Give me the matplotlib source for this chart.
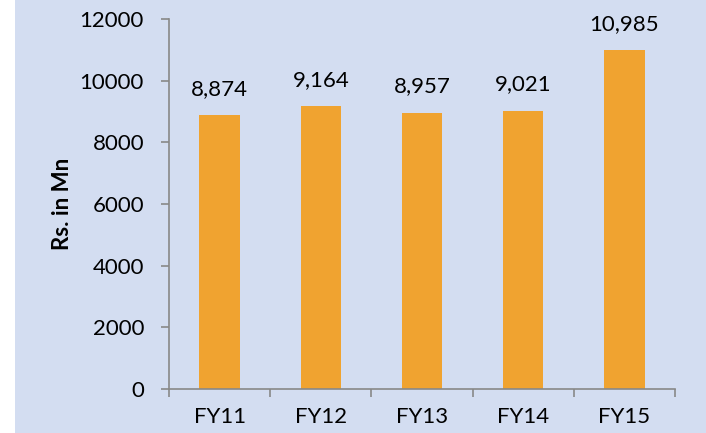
import matplotlib.pyplot as plt
from matplotlib.ticker import FixedLocator, NullFormatter

# data
years = ['FY11', 'FY12', 'FY13', 'FY14', 'FY15']
revenue = [8874, 9164, 8957, 9021, 10985]
y_ticks = [0, 2000, 4000, 6000, 8000, 10000, 12000]

BAR_COLOR = '#F0A330'
AXIS_COLOR = '#888888'
BG_COLOR = '#D3DDF1'

plt.rcParams['font.family'] = ['Lato', 'DejaVu Sans']

fig = plt.figure(figsize=(7.06, 4.33), dpi=100, facecolor='white')

# textured backdrop approximated by a flat pastel panel
bg = fig.add_axes([15 / 706, 0, 1 - 15 / 706, 1], zorder=-1)
bg.set_facecolor(BG_COLOR)
bg.set_xticks([])
bg.set_yticks([])
for s in bg.spines.values():
    s.set_visible(False)

ax = fig.add_axes([169 / 706, 1 - 389 / 433, (675 - 169) / 706, (389 - 19) / 433])
ax.set_facecolor('none')

x = list(range(len(years)))
ax.bar(x, revenue, width=0.4, color=BAR_COLOR, zorder=2)
for xi, v in zip(x, revenue):
    ax.annotate(f'{v:,}', (xi, v), xytext=(0, 12), textcoords='offset points',
                ha='center', va='bottom', fontsize=16)

ax.set_xlim(-0.5, len(years) - 0.5)
ax.set_ylim(0, 12000)
ax.set_yticks(y_ticks)
ax.set_yticklabels([str(t) for t in y_ticks], fontsize=16)

ax.set_xticks(x)
ax.set_xticklabels(years, fontsize=16)
ax.tick_params(axis='x', which='major', length=0, pad=13)
ax.xaxis.set_minor_locator(FixedLocator([i - 0.5 for i in range(len(years) + 1)]))
ax.xaxis.set_minor_formatter(NullFormatter())
ax.tick_params(axis='x', which='minor', length=6, color=AXIS_COLOR, width=1.2)
ax.tick_params(axis='y', length=6, color=AXIS_COLOR, width=1.2, pad=12)

for side in ['top', 'right']:
    ax.spines[side].set_visible(False)
for side in ['left', 'bottom']:
    ax.spines[side].set_color(AXIS_COLOR)
    ax.spines[side].set_linewidth(1.2)

ax.set_ylabel('Rs. in Mn', fontsize=16, fontweight='bold', labelpad=5)

fig.savefig('out.png', dpi=100, facecolor=fig.get_facecolor())
